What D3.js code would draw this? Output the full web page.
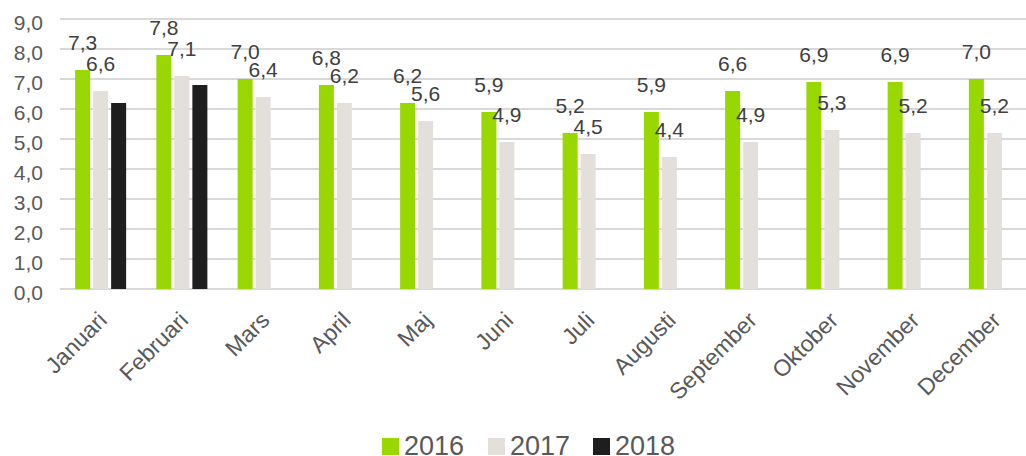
<!DOCTYPE html>
<html>
<head>
<meta charset="utf-8">
<script src="https://cdn.jsdelivr.net/npm/d3@7"></script>
<style>
  body { margin: 0; background: #fff; }
  text { font-family: "Liberation Sans", Arial, sans-serif; }
</style>
</head>
<body>
<div id="chart"></div>
<script>
var months = ["Januari", "Februari", "Mars", "April", "Maj", "Juni", "Juli", "Augusti", "September", "Oktober", "November", "December"];
var years = ["2016", "2017", "2018"];
var values2016 = [7.3, 7.8, 7.0, 6.8, 6.2, 5.9, 5.2, 5.9, 6.6, 6.9, 6.9, 7.0];
var values2017 = [6.6, 7.1, 6.4, 6.2, 5.6, 4.9, 4.5, 4.4, 4.9, 5.3, 5.2, 5.2];
var values2018 = [6.2, 6.8];
var yTicks = [0, 1, 2, 3, 4, 5, 6, 7, 8, 9];
var colors = ["#98d800", "#e3e0dc", "#1e1e1e"];

var series = [values2016, values2017, values2018];

var width = 1026, height = 456;
var margin = {top: 19, left: 60};
var plotRight = 1035, plotBottom = 289;

var svg = d3.select("#chart").append("svg")
  .attr("width", width)
  .attr("height", height);

// scales
var x = d3.scaleBand()
  .domain(months)
  .range([margin.left, plotRight])
  .paddingInner(0)
  .paddingOuter(0);

var y = d3.scaleLinear()
  .domain([0, 9])
  .range([plotBottom, margin.top]);

var fmt = function(v) { return d3.format(".1f")(v).replace(".", ","); };

// gridlines
svg.append("g")
  .selectAll("line")
  .data(yTicks)
  .enter().append("line")
  .attr("x1", margin.left)
  .attr("x2", plotRight)
  .attr("y1", function(d) { return y(d); })
  .attr("y2", function(d) { return y(d); })
  .attr("stroke", "#d9d9d9")
  .attr("stroke-width", 2);

// y axis labels (sit a little below their gridline, like the original)
svg.append("g")
  .selectAll("text")
  .data(yTicks)
  .enter().append("text")
  .attr("x", 43)
  .attr("y", function(d) { return y(d); })
  .attr("dy", "0.5em")
  .attr("text-anchor", "end")
  .attr("fill", "#595959")
  .style("font-size", "21px")
  .text(fmt);

// bars, 15px wide with 3px gap, group centred in band
var barW = 15, gap = 3;
var groupW = 3 * barW + 2 * gap;
var xs = d3.scaleBand().domain(years).range([0, groupW]).paddingInner(gap / (barW + gap));

series.forEach(function(vals, si) {
  var g = svg.append("g");
  var pts = vals.map(function(v, i) { return {m: months[i], v: v}; });
  g.selectAll("rect")
    .data(pts)
    .enter().append("rect")
    .attr("x", function(d) { return x(d.m) + (x.bandwidth() - groupW) / 2 + xs(years[si]); })
    .attr("y", function(d) { return y(d.v); })
    .attr("width", xs.bandwidth())
    .attr("height", function(d) { return y(0) - y(d.v); })
    .attr("fill", colors[si]);

  // data labels only for 2016 and 2017
  if (si < 2) {
    g.selectAll("text")
      .data(pts)
      .enter().append("text")
      .attr("x", function(d) { return x(d.m) + (x.bandwidth() - groupW) / 2 + xs(years[si]) + xs.bandwidth() / 2; })
      .attr("y", function(d) { return y(d.v) - 20; })
      .attr("text-anchor", "middle")
      .attr("fill", "#404040")
      .style("font-size", "21px")
      .text(function(d) { return fmt(d.v); });
  }
});

// month labels rotated
svg.append("g")
  .selectAll("text")
  .data(months)
  .enter().append("text")
  .attr("transform", function(d) { return "translate(" + (x(d) + x.bandwidth() / 2 + 2) + ",316)rotate(-45)"; })
  .attr("text-anchor", "end")
  .attr("dy", "0.35em")
  .attr("fill", "#595959")
  .style("font-size", "23px")
  .text(function(d) { return d; });

// legend
var legendX = [382, 488, 593];
var legend = svg.append("g");
years.forEach(function(yr, i) {
  legend.append("rect")
    .attr("x", legendX[i])
    .attr("y", 438)
    .attr("width", 17)
    .attr("height", 17)
    .attr("fill", colors[i]);
  legend.append("text")
    .attr("x", legendX[i] + 22)
    .attr("y", 455)
    .attr("fill", "#595959")
    .style("font-size", "27px")
    .text(yr);
});
</script>
</body>
</html>
